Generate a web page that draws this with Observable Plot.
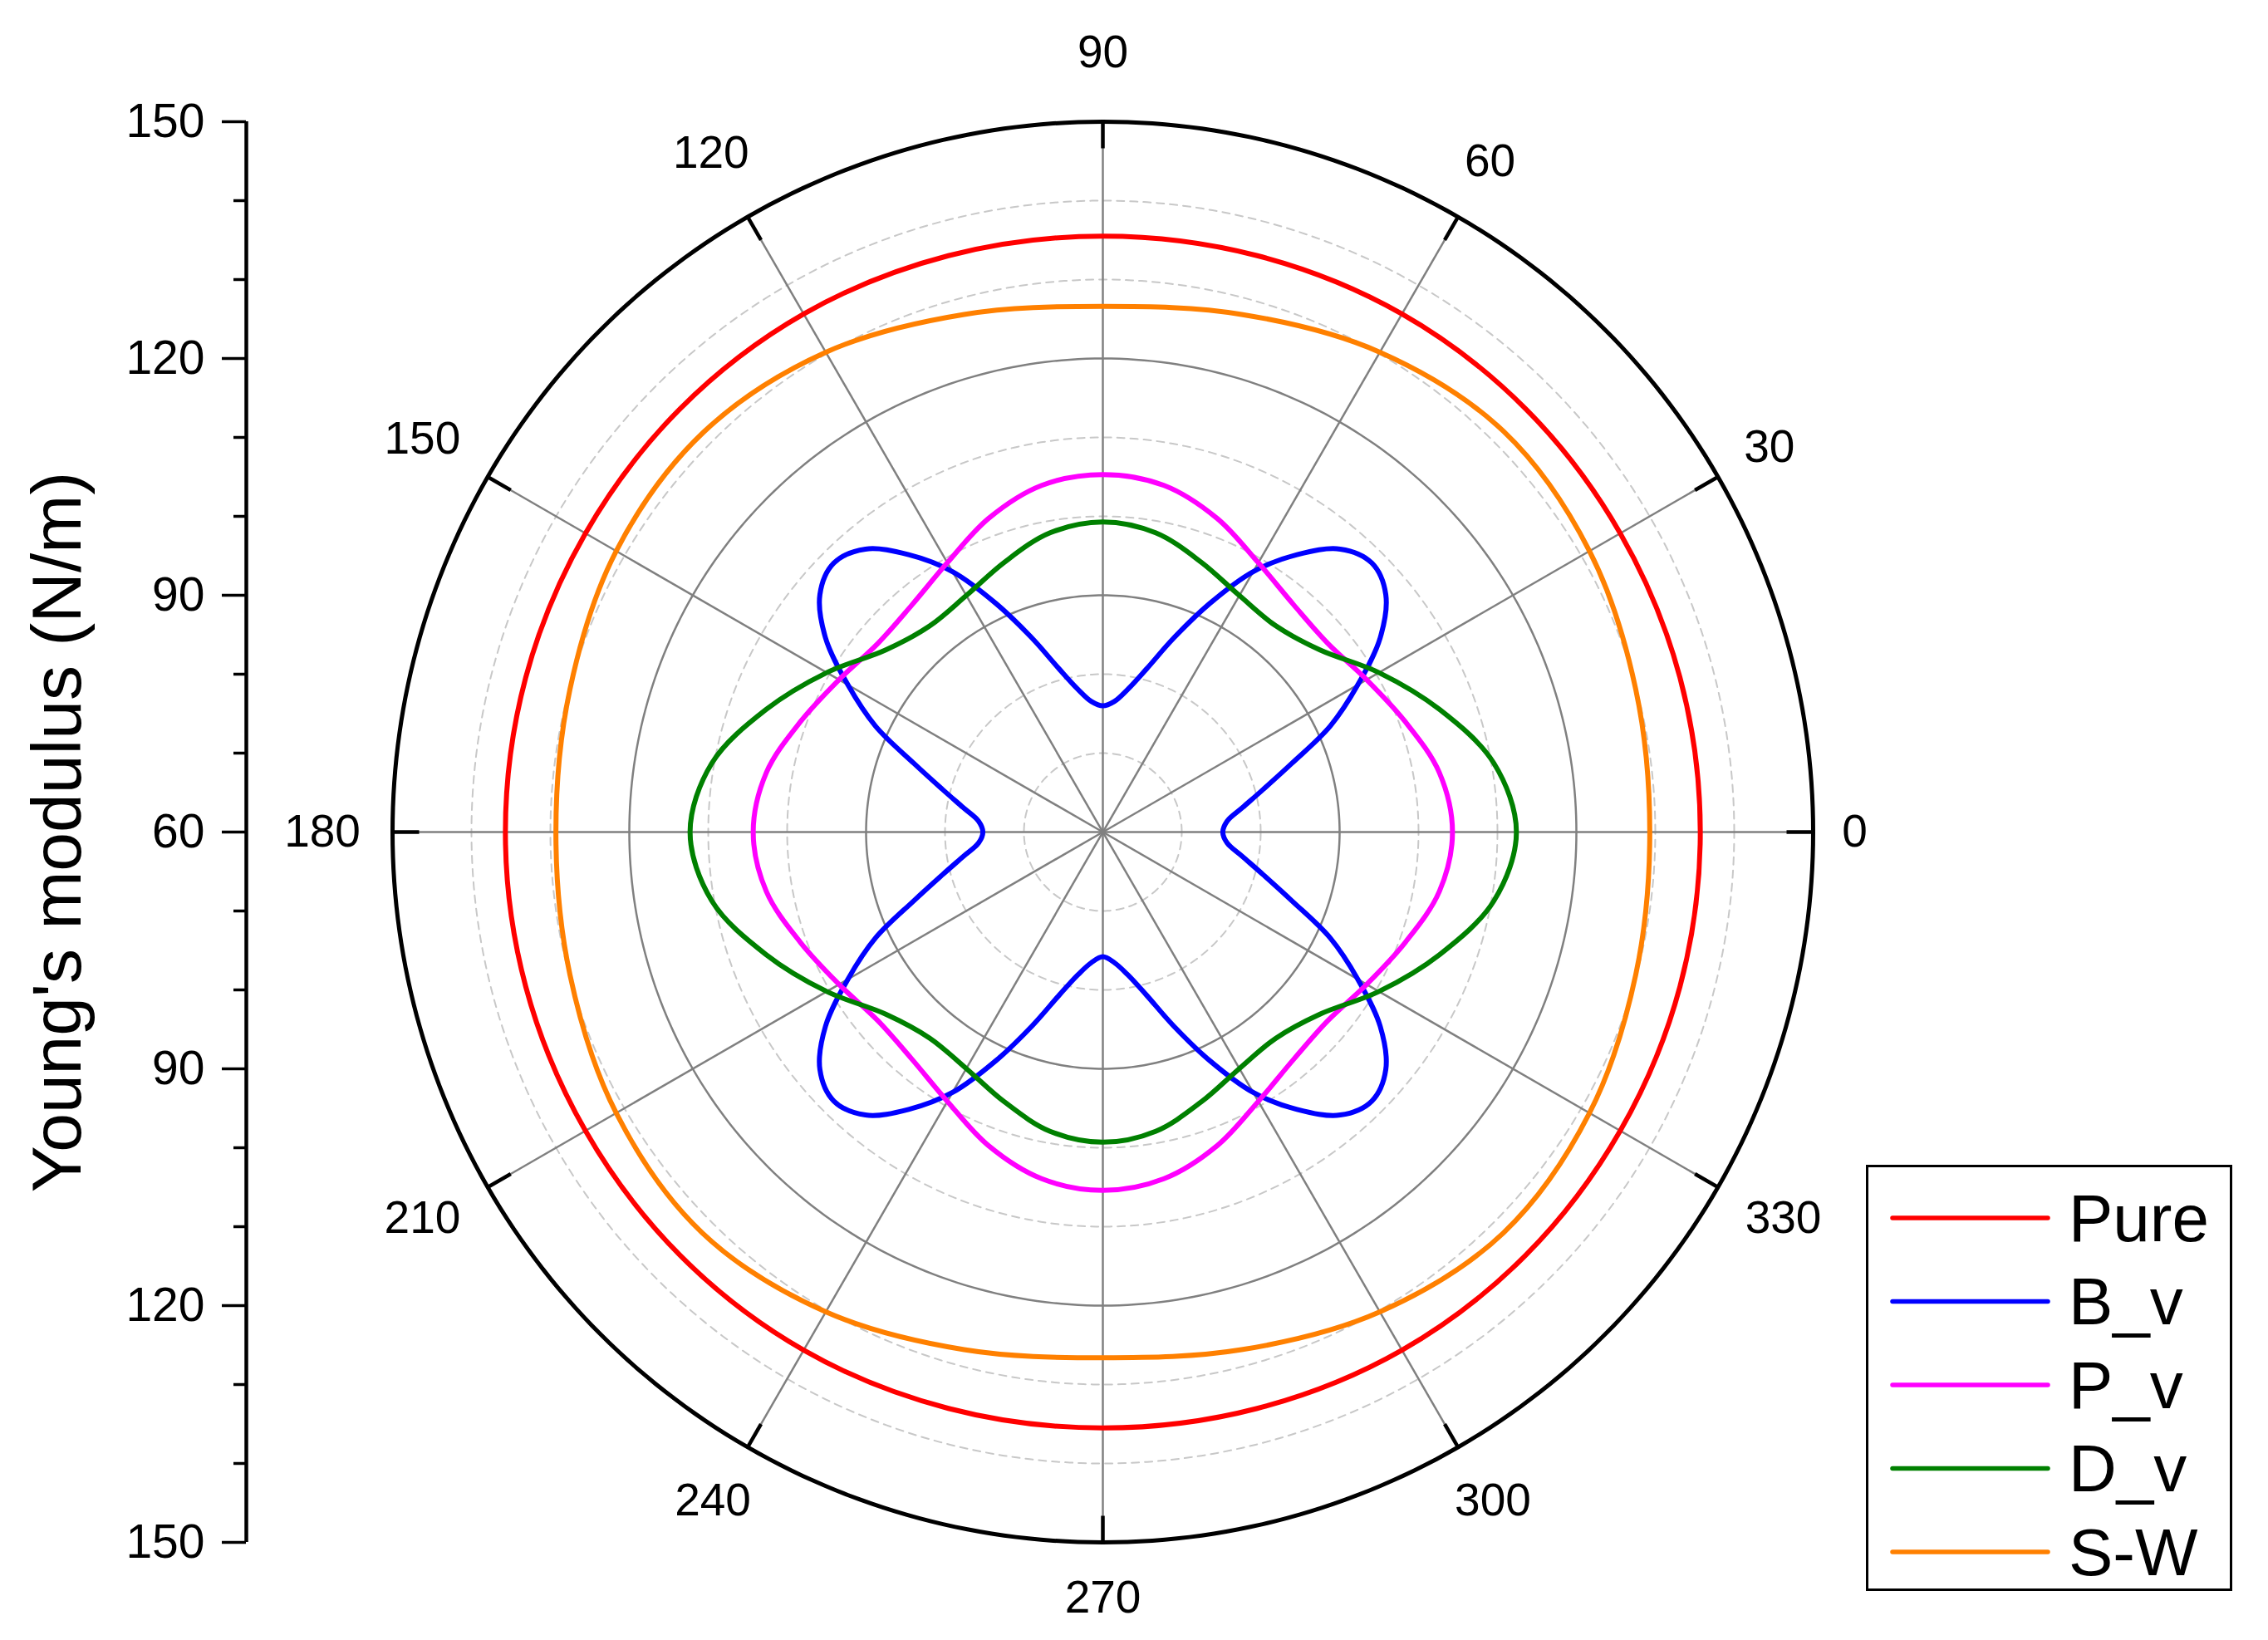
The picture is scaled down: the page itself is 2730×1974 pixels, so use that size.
<!DOCTYPE html>
<html><head><meta charset="utf-8">
<script src="https://cdn.jsdelivr.net/npm/d3@7"></script>
<script src="https://cdn.jsdelivr.net/npm/@observablehq/plot@0.6"></script>
<style>
html,body{margin:0;padding:0;background:#fff;}
#wrap{position:relative;width:2730px;height:1974px;font-family:"Liberation Sans",Arial,sans-serif;}
#legend{position:absolute;left:2246px;top:1402px;}
</style></head><body><div id="wrap"></div>
<script>
// ---------- data ----------
const seriesNames = ["Pure", "B_v", "P_v", "D_v", "S-W"];
const seriesColors = ["#ff0000", "#0000ff", "#ff00ff", "#008000", "#ff8000"];

const angles5 = [0,5,10,15,20,25,30,35,40,45,50,55,60,65,70,75,80,85,90,95,100,105,110,115,120,125,130,135,140,145,150,155,160,165,170,175,180,185,190,195,200,205,210,215,220,225,230,235,240,245,250,255,260,265,270,275,280,285,290,295,300,305,310,315,320,325,330,335,340,345,350,355];
const angles10 = [0,10,20,30,40,50,60,70,80,90,100,110,120,130,140,150,160,170,180,190,200,210,220,230,240,250,260,270,280,290,300,310,320,330,340,350];
const angles15 = [0,15,30,45,60,75,90,105,120,135,150,165,180,195,210,225,240,255,270,285,300,315,330,345];

const pure = [135.7,135.7,135.7,135.8,135.8,135.6,135.5,135.6,135.8,135.8,135.7,135.7,
              135.7,135.7,135.7,135.8,135.8,135.6,135.5,135.6,135.8,135.8,135.7,135.7];
const sw = [129.3,129.9,131.2,131.8,130.2,127.9,126.6,127.9,130.2,131.6,131.2,129.9,
            129.3,129.9,131.2,131.8,130.2,127.9,126.6,127.9,130.2,131.8,131.2,129.9];
const bv = [75.2,75.8,78.0,81.1,85.5,91.8,97.3,102.9,106.8,108.2,106.8,102.9,98.1,91.9,86.1,81.4,78.4,76.6,
            76.0,76.6,78.4,81.4,86.1,91.9,98.1,102.9,106.8,108.2,106.8,102.9,97.3,91.8,85.5,81.1,78.0,75.8,
            75.2,75.8,78.0,81.1,85.5,91.8,97.3,102.9,106.8,108.2,106.8,102.9,98.1,91.9,86.1,81.4,78.4,76.6,
            75.8,76.6,78.4,81.4,86.1,91.9,98.1,102.9,106.8,108.2,106.8,102.9,97.3,91.8,85.5,81.1,78.0,75.8];
const pv = [104.3,103.3,100.8,98.6,97.2,97.6,99.4,102.3,104.6,
            105.3,104.6,102.3,99.4,97.6,97.2,98.6,100.8,103.3,
            104.3,103.3,100.8,98.6,97.2,97.6,99.4,102.3,104.6,
            105.4,104.6,102.3,99.4,97.6,97.2,98.6,100.8,103.3];
const dv = [112.4,110.3,105.4,100.4,95.9,94.1,94.6,96.4,98.5,
            99.3,98.5,96.4,94.6,94.1,95.9,100.4,105.4,110.3,
            112.3,110.3,105.4,100.4,95.9,94.1,94.6,96.4,98.5,
            99.3,98.5,96.4,94.6,94.1,95.9,100.4,105.4,110.3];

const angleTicks = [0,30,60,90,120,150,180,210,240,270,300,330];
const radialMin = 60, radialMax = 150;
const radialMajor = [90, 120];
const radialMinor = [70, 80, 100, 110, 130, 140];
const axisMajor = [60, 90, 120, 150];
const axisMinor = [70, 80, 100, 110, 130, 140];
const axisTitle = "Young's modulus (N/m)";

// ---------- layout ----------
const W = 2730, H = 1974;
const cx = 1327, cy = 1001, Rpx = 855;
const k = Rpx / (radialMax - radialMin);
const mL = 296;
const xDomain = [-(cx - mL) / k, (W - cx) / k];
const yDomain = [-(H - cy) / k, cy / k];
const rad = a => a * Math.PI / 180;
const off = v => v - radialMin;

const table = [];
[[pure, angles15], [bv, angles5], [pv, angles10], [dv, angles10], [sw, angles15]].forEach(([vals, angs], i) => {
  vals.forEach((v, j) => table.push({
    series: seriesNames[i], angle: angs[j], value: v,
    x: off(v) * Math.cos(rad(angs[j])), y: off(v) * Math.sin(rad(angs[j]))
  }));
});

const circleDeg = d3.range(0, 361, 1);
const circle = v => circleDeg.map(a => ({x: off(v) * Math.cos(rad(a)), y: off(v) * Math.sin(rad(a))}));

const yTicksMajor = axisMajor.flatMap(v => v === radialMin ? [0] : [off(v), -off(v)]);
const yTicksMinor = axisMinor.flatMap(v => [off(v), -off(v)]);

const font = '"Liberation Sans", Arial, sans-serif';
const labelR = a => {
  const len = String(a).length;
  const hw = (len < 3 ? 12 : 15.5) * len;
  const s = Math.sin(rad(a));
  const vert = s > 0 ? 25 + 20 * Math.pow(s, 8) : 25 + 4 * Math.pow(s, 8);
  return (Rpx + 38 + Math.abs(Math.cos(rad(a))) * hw + Math.abs(s) * vert) / k;
};
const labelDy = a => {
  const s = Math.sin(rad(a));
  return (s < -0.1 && s > -0.99) ? -8 : 0;
};
const tickInner = off(radialMax) - 32 / k;

const marks = [];
radialMinor.forEach(v => marks.push(Plot.line(circle(v), {x: "x", y: "y", stroke: "#c8c8c8", strokeWidth: 2, strokeDasharray: "9,7"})));
radialMajor.forEach(v => marks.push(Plot.line(circle(v), {x: "x", y: "y", stroke: "#808080", strokeWidth: 2.5})));
marks.push(Plot.link(angleTicks, {
  x1: 0, y1: 0,
  x2: a => off(radialMax) * Math.cos(rad(a)), y2: a => off(radialMax) * Math.sin(rad(a)),
  stroke: "#808080", strokeWidth: 2.5
}));
seriesNames.forEach((s, i) => marks.push(Plot.line(table.filter(d => d.series === s), {
  x: "x", y: "y", stroke: seriesColors[i], strokeWidth: 6, curve: "catmull-rom-closed", strokeLinejoin: "round"
})));
marks.push(Plot.line(circle(radialMax), {x: "x", y: "y", stroke: "#000", strokeWidth: 5}));
marks.push(Plot.link(angleTicks, {
  x1: a => tickInner * Math.cos(rad(a)), y1: a => tickInner * Math.sin(rad(a)),
  x2: a => off(radialMax) * Math.cos(rad(a)), y2: a => off(radialMax) * Math.sin(rad(a)),
  stroke: "#000", strokeWidth: 4.5
}));
marks.push(Plot.text(angleTicks, {
  x: a => labelR(a) * Math.cos(rad(a)), y: a => labelR(a) * Math.sin(rad(a)),
  dy: labelDy(210),
  text: a => String(a), fontSize: 55, fill: "#000",
  filter: a => labelDy(a) !== 0
}));
marks.push(Plot.text(angleTicks, {
  x: a => labelR(a) * Math.cos(rad(a)), y: a => labelR(a) * Math.sin(rad(a)),
  text: a => String(a), fontSize: 55, fill: "#000",
  filter: a => labelDy(a) === 0
}));
// left radial axis
marks.push(Plot.ruleX([xDomain[0]], {y1: -off(radialMax), y2: off(radialMax), stroke: "#000", strokeWidth: 4.5}));
marks.push(Plot.axisY({ticks: yTicksMajor, anchor: "left", tickSize: 29, tickPadding: 21, strokeWidth: 3.5,
  tickFormat: d => String(Math.round(Math.abs(d) + radialMin)), fontSize: 57, fill: "#000", stroke: "#000"}));
marks.push(Plot.axisY({ticks: yTicksMinor, anchor: "left", tickSize: 15, tickPadding: 3, strokeWidth: 3.5,
  tickFormat: () => "", stroke: "#000"}));
marks.push(Plot.text([axisTitle], {x: xDomain[0], y: 0, dx: -226, rotate: -90, fontSize: 84, fill: "#000"}));

const chart = Plot.plot({
  width: W, height: H,
  marginLeft: mL, marginRight: 0, marginTop: 0, marginBottom: 0,
  x: {domain: xDomain, axis: null},
  y: {domain: yDomain, label: null},
  style: {fontFamily: font, background: "#fff", color: "#000"},
  marks
});
const wrap = document.getElementById("wrap");
wrap.appendChild(chart);

// legend
const lg = d3.select(wrap).append("svg").attr("id", "legend")
  .attr("width", 441).attr("height", 513);
lg.append("rect").attr("x", 1.5).attr("y", 1.5).attr("width", 438).attr("height", 510)
  .attr("fill", "#fff").attr("stroke", "#000").attr("stroke-width", 3);
seriesNames.forEach((s, i) => {
  const yy = 64 + i * 100.5;
  lg.append("line").attr("x1", 32).attr("x2", 219).attr("y1", yy).attr("y2", yy)
    .attr("stroke", seriesColors[i]).attr("stroke-width", 5.5).attr("stroke-linecap", "round");
  lg.append("text").attr("x", 244).attr("y", yy).attr("dominant-baseline", "central")
    .attr("font-family", font).attr("font-size", 80).attr("fill", "#000").text(s);
});
</script></body></html>
